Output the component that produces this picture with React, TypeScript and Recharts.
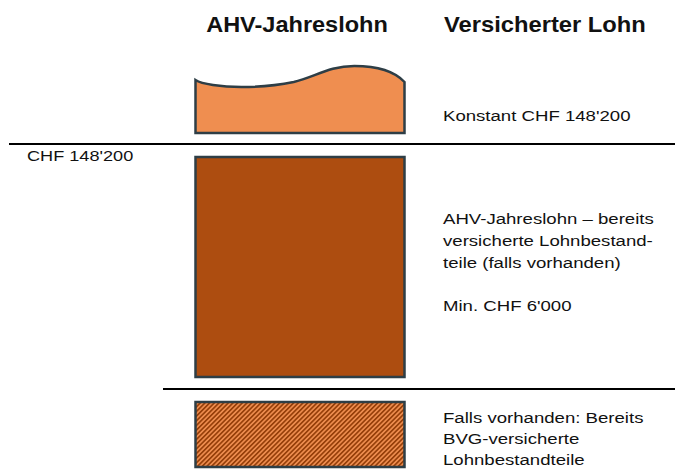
import {
  BarChart,
  Bar,
  XAxis,
  YAxis,
  ReferenceLine,
  Customized
} from "recharts"

// diagram units: 1 unit = 1px, measured upwards from the bottom edge
const categories = ["AHV-Jahreslohn"]
const barCenter = [299.5]
const baseGap = [2]
const bvgPart = [65]
const lowerGap = [25]
const mainPart = [220]
const upperGap = [24]
const topPart = [67]

const lineLevels = [325, 80]
const lineStarts = [9, 163]

const data = categories.map((name, i) => ({
  name,
  x: barCenter[i],
  base: baseGap[i],
  bvg: bvgPart[i],
  gap1: lowerGap[i],
  main: mainPart[i],
  gap2: upperGap[i],
  top: topPart[i]
}))

const FONT = "'Liberation Sans', Arial, sans-serif"
const EDGE = "#2E3E46"
const ORANGE = "#EF8E50"
const BROWN = "#AD4D10"

const WavyTop = (props: any) => {
  const { x, y, width: w, height: h } = props
  const yb = y + h
  const d = `M${x},${yb} L${x},${y + 14}
    C${x + 0.03 * w},${y + 18} ${x + 0.12 * w},${y + 21} ${x + 0.22 * w},${y + 21}
    C${x + 0.32 * w},${y + 21} ${x + 0.4 * w},${y + 19} ${x + 0.47 * w},${y + 16}
    C${x + 0.57 * w},${y + 11} ${x + 0.64 * w},${y} ${x + 0.76 * w},${y}
    C${x + 0.88 * w},${y} ${x + 0.96 * w},${y + 7} ${x + w},${y + 16}
    L${x + w},${yb} Z`
  return <path d={d} fill={ORANGE} stroke={EDGE} strokeWidth={2.5} />
}

const Txt = ({ x, y, sx = 1.2, size = 15.5, bold = false, children }: any) => (
  <text
    transform={`translate(${x},${y}) scale(${sx},1)`}
    fontFamily={FONT}
    fontSize={size}
    fontWeight={bold ? 700 : 400}
    fill="#111"
  >
    {children}
  </text>
)

const Labels = () => (
  <g>
    <defs>
      <pattern id="hatch" width="3.3" height="3.3" patternUnits="userSpaceOnUse" patternTransform="rotate(45)">
        <rect width="3.3" height="3.3" fill={ORANGE} />
        <rect width="1.7" height="3.3" fill="#97400A" />
      </pattern>
    </defs>
    <text x={297} y={32} textAnchor="middle" transform="translate(297,0) scale(1.07,1) translate(-297,0)" fontFamily={FONT} fontSize={22} fontWeight={700} fill="#111">
      AHV-Jahreslohn
    </text>
    <Txt x={444} y={32} sx={1.08} size={22} bold>Versicherter Lohn</Txt>
    <Txt x={27} y={161} sx={1.17}>CHF 148'200</Txt>
    <Txt x={443} y={121}>Konstant CHF 148'200</Txt>
    <Txt x={443} y={224}>AHV-Jahreslohn – bereits</Txt>
    <Txt x={443} y={246}>versicherte Lohnbestand-</Txt>
    <Txt x={443} y={268}>teile (falls vorhanden)</Txt>
    <Txt x={443} y={311}>Min. CHF 6'000</Txt>
    <Txt x={443} y={423}>Falls vorhanden: Bereits</Txt>
    <Txt x={443} y={444}>BVG-versicherte</Txt>
    <Txt x={443} y={465}>Lohnbestandteile</Txt>
  </g>
)

export default function App() {
  return (
    <div style={{ position: "absolute", left: 0, top: 0, width: 675, height: 469, background: "#fff" }}>
      <BarChart width={675} height={469} data={data} margin={{ top: 0, right: 0, bottom: 0, left: 0 }}>
        <Customized component={Labels} />
        <XAxis type="number" dataKey="x" domain={[0, 675]} hide />
        <YAxis type="number" domain={[0, 469]} hide />
        <Bar dataKey="base" stackId="s" fill="transparent" barSize={209} isAnimationActive={false} />
        <Bar dataKey="bvg" stackId="s" fill="url(#hatch)" stroke={EDGE} strokeWidth={2.5} barSize={209} isAnimationActive={false} />
        <Bar dataKey="gap1" stackId="s" fill="transparent" barSize={209} isAnimationActive={false} />
        <Bar dataKey="main" stackId="s" fill={BROWN} stroke={EDGE} strokeWidth={2.5} barSize={209} isAnimationActive={false} />
        <Bar dataKey="gap2" stackId="s" fill="transparent" barSize={209} isAnimationActive={false} />
        <Bar dataKey="top" stackId="s" barSize={209} shape={(p: any) => <WavyTop {...p} />} isAnimationActive={false} />
        {lineLevels.map((lv, i) => (
          <ReferenceLine
            key={i}
            segment={[{ x: lineStarts[i], y: lv }, { x: 675, y: lv }]}
            stroke="#000"
            strokeWidth={2}
            ifOverflow="visible"
          />
        ))}
      </BarChart>
    </div>
  )
}
